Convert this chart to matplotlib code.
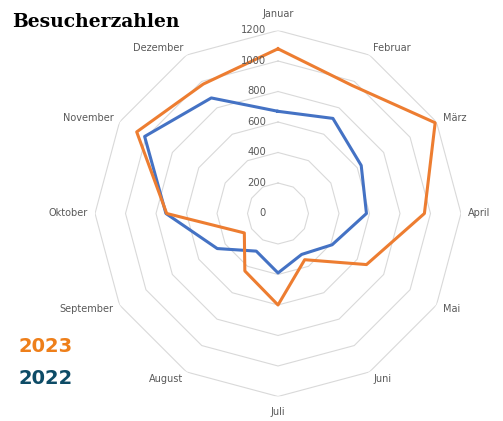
import numpy as np
import matplotlib
matplotlib.use('Agg')
import matplotlib.pyplot as plt

# Besucherzahlen je Monat
months = ['Januar', 'Februar', 'März', 'April', 'Mai', 'Juni',
          'Juli', 'August', 'September', 'Oktober', 'November', 'Dezember']
visitors_2023 = [1080, 970, 1190, 960, 670, 350, 600, 435, 255, 730, 1070, 980]
visitors_2022 = [670, 720, 630, 580, 410, 310, 390, 285, 460, 735, 1010, 875]
r_ticks = [0, 200, 400, 600, 800, 1000, 1200]

orange = '#ED7D31'
blue = '#4472C4'
grid_col = '#D9D9D9'
label_col = '#595959'

fig = plt.figure(figsize=(5.03, 4.21), dpi=100)
ax = fig.add_axes([0.1889, 0.0582, 0.7276, 0.8694], projection='polar')
ax.set_theta_zero_location('N')
ax.set_theta_direction(-1)
ax.set_ylim(0, 1200)
ax.grid(False)
ax.set_xticks([])
ax.set_yticks([])
ax.spines['polar'].set_visible(False)

n = len(months)
theta = np.linspace(0, 2 * np.pi, n, endpoint=False)
theta_c = np.append(theta, theta[0])

# polygon grid, no spokes
for r in r_ticks[1:]:
    ax.plot(theta_c, [r] * (n + 1), color=grid_col, lw=0.8, zorder=1)

ax.plot(theta_c, visitors_2022 + visitors_2022[:1], color=blue, lw=2.2, zorder=3)
ax.plot(theta_c, visitors_2023 + visitors_2023[:1], color=orange, lw=2.2, zorder=3)

# radial tick labels
for r in r_ticks:
    ax.annotate(str(r), xy=(0, r), xytext=(-12, 0), textcoords='offset pixels',
                ha='right', va='center', fontsize=7.2, color=label_col,
                annotation_clip=False)

# month labels
for t, m in zip(theta, months):
    s, c = np.sin(t), np.cos(t)
    if abs(s) < 0.1:
        ha = 'center'
        off = (0, 16 * c)
    else:
        ha = 'left' if s > 0 else 'right'
        off = (7 * s, 8 * c)
    ax.annotate(m, xy=(t, 1200), xytext=off, textcoords='offset pixels',
                ha=ha, va='center', fontsize=7, color=label_col,
                annotation_clip=False)

fig.text(0.024, 0.9366, 'Besucherzahlen', fontsize=13.5, fontweight='bold',
         family='DejaVu Serif', va='baseline', ha='left', color='black')
fig.text(0.036, 0.164, '2023', fontsize=14, fontweight='bold',
         color='#EE7F1A', va='baseline', ha='left')
fig.text(0.036, 0.088, '2022', fontsize=14, fontweight='bold',
         color='#0D4B66', va='baseline', ha='left')

fig.savefig('out.png', dpi=100)
